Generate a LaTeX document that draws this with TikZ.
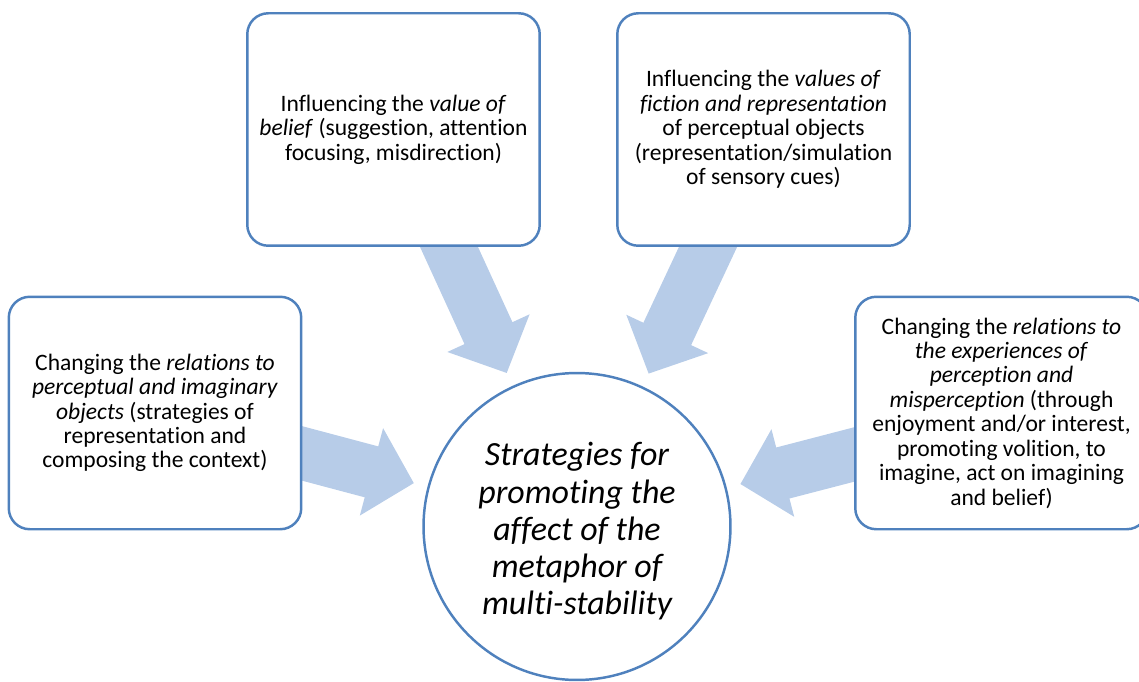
\documentclass[tikz,border=0pt]{standalone}
\usepackage{fontspec}
\setmainfont{Carlito}[Ligatures=NoCommon]
\usetikzlibrary{arrows.meta,calc,backgrounds}

\definecolor{boxblue}{RGB}{79,129,189}
\definecolor{arrowblue}{RGB}{183,204,232}

\tikzset{
    box/.style={draw=boxblue, line width=1.4pt, fill=white, rounded corners=0.42cm,
        minimum width=5.85cm, minimum height=4.65cm, align=center,
        font=\fontsize{13.4}{13.9}\selectfont},
    hub/.style={circle, draw=boxblue, line width=1.4pt, fill=white, minimum size=6.14cm,
        inner sep=0pt},
    hubtext/.style={align=center, font=\fontsize{19.3}{21.2}\selectfont\itshape},
    bigarrow/.style={draw=arrowblue, line width=30pt,
        -{Triangle[length=25pt,width=50pt]}, shorten >=8pt}
}

\begin{document}
\begin{tikzpicture}[x=0.02cm, y=-0.02cm]
        \useasboundingbox (0,0) rectangle (1139,682);

        % Define the boxes
        \node[box] (tl) at (393.5,129.5) {Influencing the \emph{value of}\\
            \emph{belief} (suggestion, attention\\ focusing, misdirection)};
        \node[box] (tr) at (763.5,129.5) {Influencing the \emph{values of}\\
            \emph{fiction and representation}\\ of perceptual objects\\
            (representation/simulation\\ of sensory cues)};
        \node[box] (lb) at (155,413) {Changing the \emph{relations to}\\
            \emph{perceptual and imaginary}\\ \emph{objects} (strategies of\\
            representation and\\ composing the context)};
        \node[box] (rb) at (1001.5,413) {Changing the \emph{relations to}\\
            \emph{the experiences of}\\ \emph{perception and}\\
            \emph{misperception} (through\\ enjoyment and/or interest,\\
            promoting volition, to\\ imagine, act on imagining\\ and belief)};

        % Define the hub
        \node[hub] (hub) at (577,526.5) {};
        \node[hubtext] (hubtxt) at ($(hub)+(0,5)$) {Strategies for\\ promoting the\\
            affect of the\\ metaphor of\\ multi-stability};

        % Feet of the arrows
        \coordinate (tlfoot) at ($(tl.south)+(55.5,0)$);
        \coordinate (trfoot) at ($(tr.south)+(-55.5,0)$);
        \coordinate (lbfoot) at ($(lb.east)+(0,40.5)$);
        \coordinate (rbfoot) at ($(rb.west)+(0,41.5)$);

        % Draw arrows
        \begin{scope}[on background layer]
            \draw[bigarrow] ($(hub)!1.15!(tlfoot)$) -- (hub);
            \draw[bigarrow] ($(hub)!1.15!(trfoot)$) -- (hub);
            \draw[bigarrow] ($(hub)!1.15!(lbfoot)$) -- (hub);
            \draw[bigarrow] ($(hub)!1.15!(rbfoot)$) -- (hub);
        \end{scope}
    \end{tikzpicture}
\end{document}
